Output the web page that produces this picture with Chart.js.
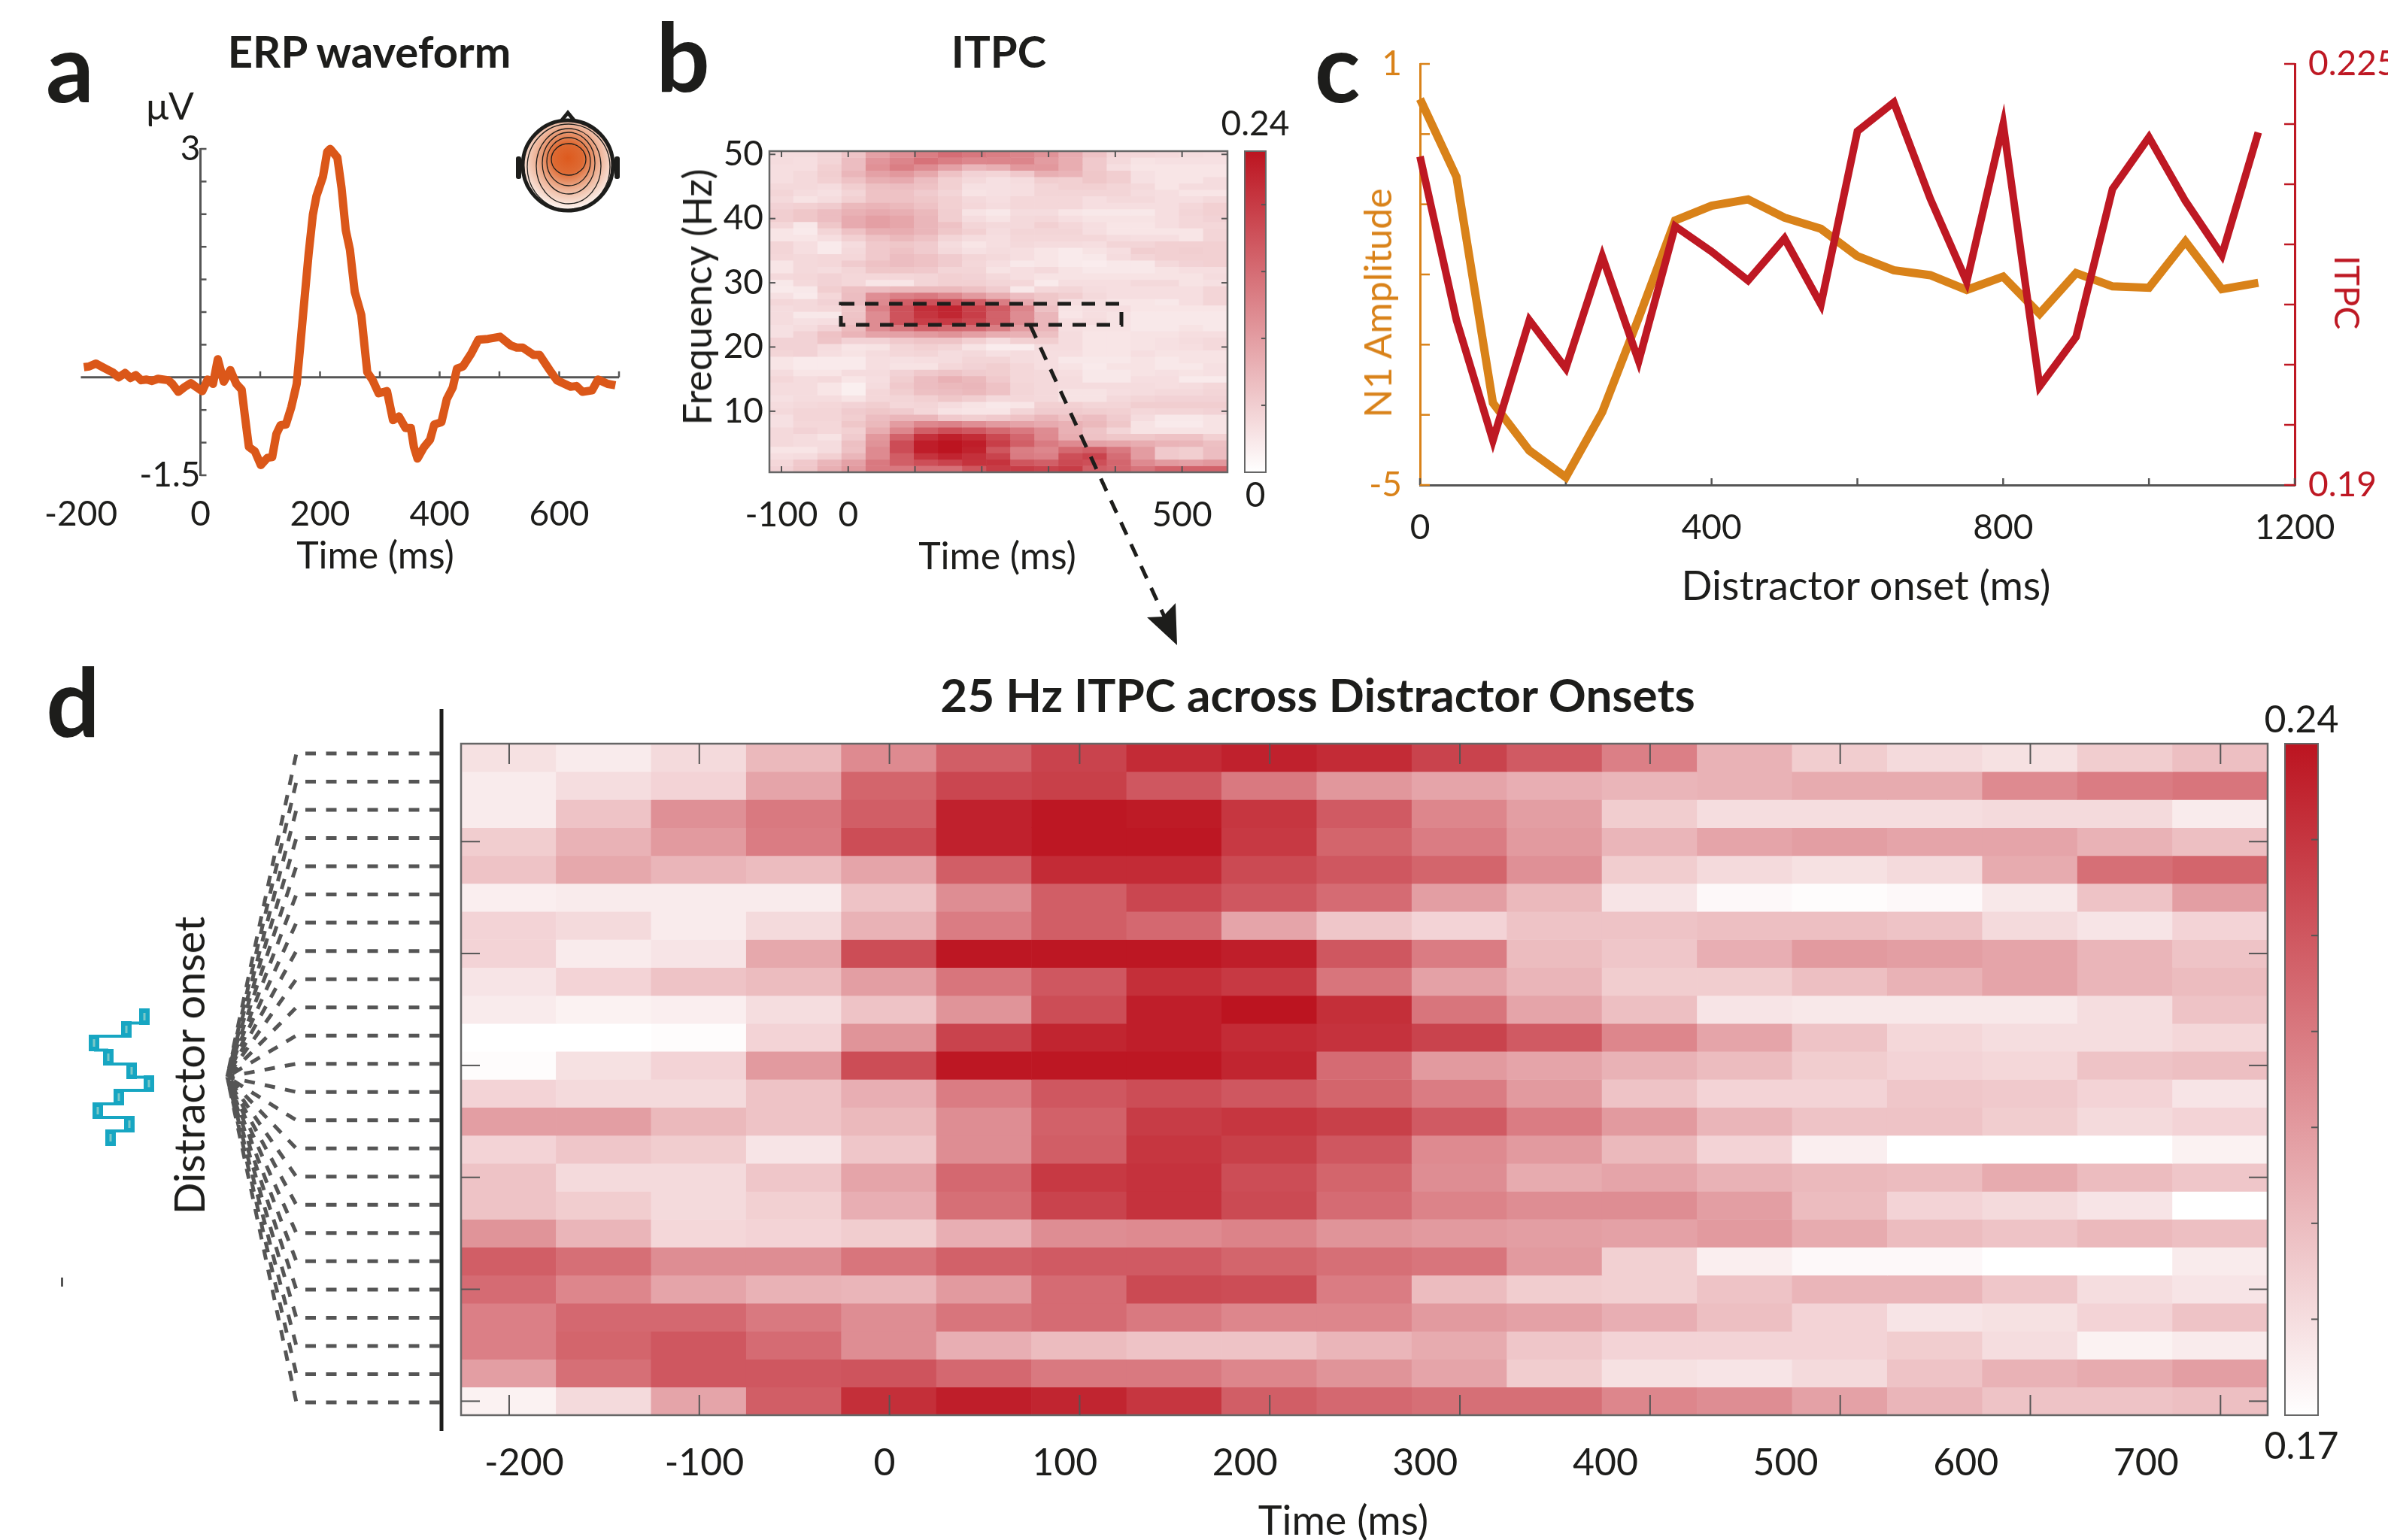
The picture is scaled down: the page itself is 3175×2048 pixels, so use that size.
<!DOCTYPE html>
<html>
<head>
<meta charset="utf-8">
<title>ERP and ITPC figure</title>
<script src="https://cdn.jsdelivr.net/npm/chart.js@4"></script>
<style>
  html, body { margin: 0; background: #fff; }
  #page { position: relative; width: 3175px; height: 2048px; overflow: hidden; font-family: Lato, sans-serif; color: #1d1d1b; }
  #page canvas, #page svg { position: absolute; left: 0; top: 0; }
  .txt { position: absolute; white-space: nowrap; line-height: 1; }
</style>
</head>
<body>
<div id="page"></div>
<script>
// panel a, ERP at the central electrodes
const erpTime = [-195,-186,-175,-161,-147,-137,-126,-117,-108,-99,-90,-81,-71,-54,-47,-37,-26,-16,-6,3,12,21,29,39,50,60,69,74,81,91,101,112,120,127,134,143,152,161,167,174,181,188,194,205,212,217,229,236,243,250,258,269,279,288,298,312,322,332,343,352,357,363,374,384,391,403,412,422,429,439,453,465,481,501,519,529,539,557,567,584,596,619,629,639,655,665,681,694];
const erpValues = [-0.01,0,0.04,-0.02,-0.08,-0.15,-0.09,-0.16,-0.12,-0.19,-0.18,-0.2,-0.17,-0.19,-0.24,-0.35,-0.28,-0.23,-0.29,-0.34,-0.18,-0.24,0.1,-0.21,-0.05,-0.24,-0.32,-0.66,-1.11,-1.17,-1.36,-1.26,-1.25,-0.93,-0.81,-0.8,-0.56,-0.24,0.29,0.93,1.56,2.09,2.35,2.62,2.96,3,2.88,2.46,1.88,1.61,1.03,0.71,-0.08,-0.19,-0.37,-0.34,-0.74,-0.69,-0.85,-0.85,-1.11,-1.27,-1.11,-1.01,-0.8,-0.77,-0.45,-0.29,-0.03,0,0.18,0.37,0.38,0.41,0.29,0.26,0.26,0.16,0.16,-0.05,-0.19,-0.28,-0.27,-0.35,-0.33,-0.18,-0.24,-0.26];
const erpYTicks = [-1.5,-1.05,-0.6,-0.15,0.3,0.75,1.2,1.65,2.1,2.55,3];
const erpYLabels = [-1.5,3];
const erpXTicks = [-200,-100,0,100,200,300,400,500,600,700];
const erpXLabels = [-200,0,200,400,600];
const erpBaseline = -0.15;

// panel b, ITPC in % of the colourbar top (0.24), top row is 50 Hz
const itpcTop = 0.24;
const freqBins = [50,49,48,47,46,45,44,43,42,41,40,39,38,37,36,35,34,33,32,31,30,29,28,27,26,25,24,23,22,21,20,19,18,17,16,15,14,13,12,11,10,9,8,7,6,5,4,3,2,1];
const tfTimeBins = [-100,-64,-28,8,44,80,117,153,189,225,261,297,333,369,406,442,478,514,550];
const tfTimeTicks = [-100,0,100,200,300,400,500];
const tfTimeLabels = [-100,0,500];
const freqTicks = [10,20,30,40,50];
const itpcTimeFreq = [
  [15,15,18,25,40,48,55,62,58,55,52,46,36,26,18,17,16,15,14],
  [15,14,18,28,45,52,60,55,51,52,52,42,35,23,16,12,13,13,13],
  [14,14,20,28,47,55,49,40,31,34,44,44,35,23,14,11,11,11,11],
  [14,16,21,31,40,44,37,26,19,18,23,34,32,24,21,13,11,11,11],
  [14,16,20,26,34,36,28,20,16,13,15,21,20,24,21,13,11,11,15],
  [16,16,15,21,27,28,26,20,13,13,14,18,20,20,18,16,11,15,15],
  [18,15,13,18,26,26,22,18,12,13,14,18,18,18,18,15,14,11,11],
  [16,12,15,20,26,26,24,20,16,14,17,17,17,14,16,16,14,14,16],
  [19,20,22,30,32,30,26,20,17,15,17,17,17,14,14,14,14,17,20],
  [21,24,28,33,36,34,30,21,12,10,15,15,11,10,10,10,14,18,20],
  [21,24,28,36,41,38,31,21,15,12,16,17,14,12,12,12,14,17,19],
  [17,10,24,36,41,38,31,26,18,16,16,20,17,14,11,11,14,17,17],
  [11,9,18,26,34,35,31,24,20,15,18,18,18,14,11,11,11,11,18],
  [11,11,14,20,26,30,26,18,15,14,17,17,17,17,15,14,14,11,18],
  [18,14,9,15,23,24,22,15,11,14,16,15,15,14,18,18,20,20,20],
  [18,14,9,16,23,26,22,16,13,15,14,11,9,12,14,21,20,21,20],
  [17,16,17,17,23,28,26,22,18,16,14,11,9,10,15,18,20,20,20],
  [11,16,17,22,26,28,26,22,17,14,10,11,9,8,10,10,16,19,20],
  [11,16,15,18,24,24,23,18,18,12,14,16,12,10,10,10,12,14,14],
  [16,17,19,17,17,17,18,20,19,16,14,12,12,12,12,12,12,12,15],
  [10,16,19,17,11,11,18,20,20,18,17,9,14,14,14,16,16,12,13],
  [9,10,21,27,28,30,30,30,27,22,10,17,18,15,14,14,14,14,18],
  [13,9,17,28,48,54,57,51,43,35,28,24,21,16,14,14,14,14,18],
  [17,16,19,28,50,68,74,74,69,55,36,24,14,14,11,11,10,14,18],
  [15,16,17,24,54,74,89,93,81,70,52,27,12,14,14,11,11,11,11],
  [15,10,10,25,49,73,86,92,82,67,49,31,11,14,12,10,10,10,10],
  [15,13,14,26,49,73,82,84,78,67,49,31,14,15,12,10,10,10,10],
  [13,15,19,29,49,58,67,64,63,55,42,31,14,12,12,10,10,12,10],
  [13,19,26,32,39,40,43,46,41,35,33,27,15,11,11,12,12,14,14],
  [19,19,25,19,19,23,25,25,20,15,20,21,15,11,11,12,13,15,16],
  [19,19,15,11,12,18,20,18,12,8,8,15,15,11,11,12,13,14,16],
  [18,19,14,12,15,17,18,15,16,13,15,14,14,11,11,14,12,12,12],
  [11,9,9,9,14,13,14,15,18,18,15,14,10,10,10,12,10,12,12],
  [11,9,9,9,14,12,12,17,19,21,17,14,12,9,12,12,10,10,13],
  [15,11,11,15,15,19,23,25,22,21,17,16,14,10,10,12,13,12,13],
  [17,15,16,11,14,21,28,33,30,23,17,16,15,10,10,14,14,9,9],
  [15,15,11,7,15,23,28,30,31,26,18,16,15,15,15,15,14,15,17],
  [15,15,11,7,17,21,27,28,30,26,18,16,12,12,14,15,16,16,18],
  [13,15,15,12,17,18,20,24,21,16,17,16,12,12,16,18,19,19,19],
  [15,16,17,19,21,17,18,15,12,10,11,20,20,18,18,21,21,21,21],
  [16,18,18,22,24,22,17,12,11,11,18,22,22,21,20,17,18,18,19],
  [13,18,18,21,28,31,31,23,21,23,26,31,26,28,22,15,10,10,12],
  [13,17,17,24,30,42,51,53,48,43,39,36,33,30,24,12,9,9,12],
  [16,19,17,20,35,51,68,75,71,64,57,49,33,25,18,12,12,12,12],
  [16,15,12,22,44,67,88,95,90,78,65,50,35,26,24,24,26,26,20],
  [16,15,15,27,46,76,96,100,96,82,68,56,50,40,38,35,32,31,27],
  [11,11,15,26,50,76,96,100,94,72,55,51,64,68,57,42,23,21,28],
  [14,15,20,31,50,69,87,93,88,80,56,54,75,80,62,42,23,21,28],
  [17,23,31,40,57,68,75,80,87,87,72,68,77,75,65,50,43,41,44],
  [19,24,34,43,57,57,61,61,72,83,83,80,83,68,65,59,67,67,67]
];
const tfBarTicks = [0.05,0.1,0.15,0.2];

// panel c, N1 amplitude and 25 Hz ITPC per onset
const onsetTimes = [0,50,100,150,200,250,300,350,400,450,500,550,600,650,700,750,800,850,900,950,1000,1050,1100,1150];
const n1Amplitude = [0.5,-0.61,-3.83,-4.51,-4.89,-3.96,-2.62,-1.23,-1.02,-0.93,-1.19,-1.35,-1.74,-1.94,-2.01,-2.22,-2.03,-2.56,-1.98,-2.17,-2.19,-1.53,-2.21,-2.12];
const onsetItpc = [0.2173,0.2037,0.1937,0.2037,0.1997,0.209,0.2003,0.2115,0.2094,0.207,0.2105,0.205,0.2194,0.2218,0.2138,0.2069,0.22,0.1982,0.2023,0.2146,0.2189,0.2136,0.2091,0.2193];
const onsetXTicks = [0,200,400,600,800,1000,1200];
const onsetXLabels = [0,400,800,1200];
const n1Ticks = [-5,-4,-3,-2,-1,0,1];
const n1Labels = [-5,1];
const onsetItpcTicks = [0.19,0.195,0.2,0.205,0.21,0.215,0.22,0.225];
const onsetItpcLabels = [0.19,0.225];

// panel d, ITPC x 1000, one row per distractor onset, first row on top
const onsetRows = [1,2,3,4,5,6,7,8,9,10,11,12,13,14,15,16,17,18,19,20,21,22,23,24];
const onsetRowTicks = [4,8,12,16,20,24];
const dTimeBins = [-200,-150,-100,-50,0,50,100,150,200,250,300,350,400,450,500,550,600,650,700];
const dTickMarks = [-200,-100,0,100,200,300,400,500,600,700];
const itpcOnsetTime = [
  [179,176,181,191,205,218,226,233,236,233,226,219,208,193,185,181,179,185,189],
  [176,180,183,197,216,225,227,220,210,201,197,194,192,193,195,195,205,209,211],
  [176,188,203,210,218,236,239,238,230,219,206,199,185,180,180,180,181,181,176],
  [185,193,200,209,223,236,239,239,229,216,209,200,192,197,199,197,197,193,189],
  [188,196,192,190,197,218,233,233,224,220,216,203,185,181,179,181,195,213,216],
  [175,176,176,176,188,204,218,225,220,214,199,191,178,172,171,172,177,188,199],
  [183,181,176,181,193,209,218,215,197,187,183,188,188,189,189,188,181,178,183],
  [183,176,178,196,223,239,239,239,237,220,209,190,187,194,200,199,197,192,188],
  [178,183,188,190,199,211,220,232,229,211,198,192,185,185,189,193,197,192,190],
  [176,174,175,180,188,202,223,237,240,232,211,197,189,178,177,177,177,180,188],
  [170,170,171,183,202,226,235,237,233,231,226,219,206,197,188,182,180,180,182],
  [171,179,183,200,223,239,239,239,235,214,200,197,193,190,185,183,182,188,189],
  [183,181,181,188,194,209,220,223,220,216,209,200,188,183,183,187,186,183,178],
  [199,199,191,188,191,204,217,228,230,227,219,209,200,192,188,188,185,181,183],
  [183,187,185,178,187,204,218,230,227,220,205,200,191,183,175,170,170,170,174],
  [188,181,181,187,197,215,229,231,223,216,204,195,197,193,191,190,195,190,187],
  [188,185,181,184,194,213,226,231,224,214,207,204,204,199,190,183,181,178,170],
  [202,192,182,183,185,194,204,205,207,202,200,199,198,200,195,190,188,191,189],
  [218,213,204,204,211,217,219,219,216,213,211,200,184,175,172,172,170,170,176],
  [214,206,197,193,192,200,214,224,223,209,190,185,184,188,192,192,187,180,178],
  [208,215,215,210,204,211,214,210,206,206,200,198,194,189,183,178,179,183,188],
  [208,216,220,214,204,194,190,188,188,192,195,187,183,183,183,185,180,174,176],
  [199,213,220,220,221,215,210,210,206,202,197,185,179,178,181,188,193,195,199],
  [174,181,197,218,232,237,235,230,218,215,213,213,206,204,198,192,188,188,189]
];
const dBarTicks = [0.18,0.19,0.2,0.21,0.22,0.23];
const dBarMin = 0.17;
const dBarMax = 0.24;

const PAGE_W = 3175, PAGE_H = 2048;
const INK = '#1d1d1b', GREY = '#555555';
const ORANGE = '#db5719', AMBER = '#d98219', RED = '#be1823';
const FONT = 'Lato, sans-serif';
const page = document.getElementById('page');

function newCanvas() {
  const c = document.createElement('canvas');
  c.width = PAGE_W; c.height = PAGE_H;
  page.appendChild(c);
  return c;
}

function addText(text, x, y, size, opts) {
  opts = opts || {};
  const d = document.createElement('div');
  d.className = 'txt';
  d.textContent = text;
  d.style.left = x + 'px';
  d.style.top = y + 'px';
  d.style.fontSize = size + 'px';
  d.style.fontWeight = opts.weight || 400;
  d.style.color = opts.color || INK;
  d.style.transform = 'translate(-50%,-50%) rotate(' + (opts.rotate || 0) + 'deg)';
  page.appendChild(d);
}

// white to dark red, same map for both heatmaps
function heatColor(v, lo, hi) {
  const f = Math.min(1, Math.max(0, (v - lo) / (hi - lo)));
  const r = Math.round(255 + (188 - 255) * f);
  const g = Math.round(255 + (20 - 255) * f);
  const b = Math.round(255 + (32 - 255) * f);
  return 'rgb(' + r + ',' + g + ',' + b + ')';
}

function stroke(ctx, x0, y0, x1, y1, color, width) {
  ctx.save();
  ctx.strokeStyle = color;
  ctx.lineWidth = width;
  ctx.beginPath();
  ctx.moveTo(x0, y0);
  ctx.lineTo(x1, y1);
  ctx.stroke();
  ctx.restore();
}

// short tick marks along a scale, drawn from anchor by len pixels
function tickMarks(chart, id, anchor, len, color, width, keep) {
  const s = chart.scales[id];
  s.ticks.forEach(t => {
    if (keep && !keep(t.value)) return;
    const p = s.getPixelForValue(t.value);
    if (s.isHorizontal()) stroke(chart.ctx, p, anchor, p, anchor + len, color, width);
    else stroke(chart.ctx, anchor, p, anchor + len, p, color, width);
  });
}

function boxOutline(chart, color, width) {
  const a = chart.chartArea;
  chart.ctx.save();
  chart.ctx.strokeStyle = color;
  chart.ctx.lineWidth = width;
  chart.ctx.strokeRect(a.left, a.top, a.right - a.left, a.bottom - a.top);
  chart.ctx.restore();
}

// padding that leaves the plot area at exactly these page coordinates,
// the boxes are the fixed room given to the axes (tick labels get clipped to it)
function paddingFor(left, top, right, bottom, boxLeft, boxBottom, boxRight) {
  return {
    left: left - (boxLeft || 0),
    top: top,
    right: PAGE_W - right - (boxRight || 0),
    bottom: PAGE_H - bottom - (boxBottom || 0)
  };
}

function axis(values, labeled, extra) {
  extra = extra || {};
  const box = extra.box || 0;
  const tickOpts = Object.assign({
    autoSkip: false, maxRotation: 0, minRotation: 0, includeBounds: false,
    padding: 20, color: INK, font: { family: FONT, size: 46 },
    callback: v => labeled.some(l => Math.abs(l - v) < 1e-6) ? String(v) : ''
  }, extra.ticks || {});
  const out = Object.assign({
    afterBuildTicks: s => { s.ticks = values.map(v => ({ value: v })); },
    afterFit: s => { if (s.isHorizontal()) s.height = box; else s.width = box; },
    offset: false,
    grid: { display: false, drawTicks: false, offset: false },
    border: { display: false }
  }, extra);
  out.ticks = tickOpts;
  delete out.box;
  return out;
}

const commonOptions = () => ({
  responsive: false, animation: false, events: [],
  plugins: { legend: { display: false }, tooltip: { enabled: false } }
});

function heatmap(cfg) {
  const rowsets = cfg.matrix.map((row, r) => ({
    data: row.map(() => [cfg.rows[r] - 0.5, cfg.rows[r] + 0.5]),
    backgroundColor: row.map(cfg.color),
    borderWidth: 0, barPercentage: 1, categoryPercentage: 1, grouped: false,
    xAxisID: 'xCells', yAxisID: 'y'
  }));
  const opts = commonOptions();
  opts.layout = { padding: paddingFor(cfg.left, cfg.top, cfg.right, cfg.bottom, cfg.boxLeft, cfg.boxBottom) };
  opts.scales = Object.assign({ xCells: { type: 'category', display: false, offset: true } }, cfg.scales);
  new Chart(newCanvas(), {
    type: 'bar',
    data: { labels: cfg.categories, datasets: rowsets },
    options: opts,
    plugins: [{ id: 'heatFrame', afterDatasetsDraw: cfg.marks }]
  });
}

function colorbar(cfg) {
  const opts = commonOptions();
  opts.layout = { padding: paddingFor(cfg.left, cfg.top, cfg.right, cfg.bottom) };
  opts.scales = {
    x: { type: 'category', display: false },
    y: axis(cfg.ticks, [], { type: 'linear', min: cfg.min, max: cfg.max })
  };
  new Chart(newCanvas(), {
    type: 'bar',
    data: {
      labels: ['ITPC'],
      datasets: [{
        data: [[cfg.min, cfg.max]],
        barPercentage: 1, categoryPercentage: 1, borderWidth: 0,
        backgroundColor: c => {
          const a = c.chart.chartArea;
          if (!a) return '#fff';
          const g = c.chart.ctx.createLinearGradient(0, a.bottom, 0, a.top);
          g.addColorStop(0, heatColor(0, 0, 1));
          g.addColorStop(1, heatColor(1, 0, 1));
          return g;
        }
      }]
    },
    options: opts,
    plugins: [{
      id: 'barFrame',
      afterDatasetsDraw(chart) {
        boxOutline(chart, '#666', 2);
        tickMarks(chart, 'y', chart.chartArea.right, -cfg.tick, '#555', 2);
      }
    }]
  });
}

// --- panel a
(function () {
  const opts = commonOptions();
  opts.layout = { padding: paddingFor(107.5, 198, 823, 632, 0, 100) };
  opts.scales = {
    x: axis(erpXTicks, erpXLabels, { type: 'linear', min: -200, max: 700, box: 100, ticks: { padding: 25 } }),
    y: axis(erpYTicks, erpYLabels, {
      type: 'linear', min: -1.5, max: 3, position: { x: 0 },
      border: { display: true, color: GREY, width: 3 }, ticks: { padding: 16 }
    })
  };
  new Chart(newCanvas(), {
    type: 'line',
    data: {
      datasets: [{
        data: erpTime.map((t, i) => ({ x: t, y: erpValues[i] })),
        borderColor: ORANGE, borderWidth: 11, pointRadius: 0, tension: 0,
        borderJoinStyle: 'round', clip: false
      }]
    },
    options: opts,
    plugins: [{
      id: 'erpAxes',
      beforeDatasetsDraw(chart) {
        const base = chart.scales.y.getPixelForValue(erpBaseline);
        const a = chart.chartArea;
        stroke(chart.ctx, a.left, base, a.right, base, GREY, 3);
        tickMarks(chart, 'x', base, -8, GREY, 2.5, v => v > 0);
        tickMarks(chart, 'y', chart.scales.x.getPixelForValue(0), 8, GREY, 2.5);
      }
    }]
  });
})();

// --- panel b
heatmap({
  matrix: itpcTimeFreq, rows: freqBins, categories: tfTimeBins,
  color: v => heatColor(v / 100 * itpcTop, 0, itpcTop),
  left: 1023, top: 201, right: 1632, bottom: 628, boxLeft: 100, boxBottom: 90,
  scales: {
    xTime: axis(tfTimeTicks, tfTimeLabels, { type: 'linear', position: 'bottom', min: -118, max: 568, box: 90, ticks: { padding: 30 } }),
    y: axis(freqTicks, freqTicks, { type: 'linear', position: 'left', min: 0.5, max: 50.5, box: 100, ticks: { padding: 8 } })
  },
  marks(chart) {
    const a = chart.chartArea;
    boxOutline(chart, '#666', 2.5);
    tickMarks(chart, 'xTime', a.top, 8, GREY, 2);
    tickMarks(chart, 'xTime', a.bottom, -8, GREY, 2);
    tickMarks(chart, 'y', a.left, 8, GREY, 2);
    tickMarks(chart, 'y', a.right, -8, GREY, 2);
  }
});
colorbar({ left: 1655, top: 201, right: 1683, bottom: 628, min: 0, max: 0.24, ticks: tfBarTicks, tick: 6 });

// --- panel c
(function () {
  const opts = commonOptions();
  opts.layout = { padding: paddingFor(1888, 85, 3051, 645, 90, 90, 124) };
  opts.scales = {
    x: axis(onsetXTicks, onsetXLabels, {
      type: 'linear', min: 0, max: 1200, box: 90,
      border: { display: true, color: GREY, width: 3 }, ticks: { padding: 30 }
    }),
    yN1: axis(n1Ticks, n1Labels, {
      type: 'linear', position: 'left', min: -5, max: 1, box: 90,
      border: { display: true, color: AMBER, width: 3 }, ticks: { color: AMBER, padding: 24 }
    }),
    yItpc: axis(onsetItpcTicks, onsetItpcLabels, {
      type: 'linear', position: 'right', min: 0.19, max: 0.225, box: 124,
      border: { display: true, color: RED, width: 3 }, ticks: { color: RED, padding: 18 }
    })
  };
  new Chart(newCanvas(), {
    type: 'line',
    data: {
      labels: onsetTimes,
      datasets: [
        { data: onsetTimes.map((t, i) => ({ x: t, y: onsetItpc[i] })), yAxisID: 'yItpc', borderColor: RED, borderWidth: 10, pointRadius: 0, tension: 0, clip: false },
        { data: onsetTimes.map((t, i) => ({ x: t, y: n1Amplitude[i] })), yAxisID: 'yN1', borderColor: AMBER, borderWidth: 11, pointRadius: 0, tension: 0, clip: false }
      ]
    },
    options: opts,
    plugins: [{
      id: 'onsetTicks',
      beforeDatasetsDraw(chart) {
        const a = chart.chartArea;
        tickMarks(chart, 'x', a.bottom, -9, GREY, 2.5);
        tickMarks(chart, 'yN1', a.left, 13, AMBER, 2.5);
        tickMarks(chart, 'yItpc', a.right, -14, RED, 2.5);
      }
    }]
  });
})();

// --- panel d, tick marks and tick labels sit on two different spacings in the figure
heatmap({
  matrix: itpcOnsetTime, rows: onsetRows, categories: dTimeBins,
  color: v => heatColor(v / 1000, dBarMin, dBarMax),
  left: 613, top: 989, right: 3015, bottom: 1882, boxBottom: 100,
  scales: {
    xMarks: axis(dTickMarks, [], { type: 'linear', position: 'bottom', min: -225.3, max: 724.8, ticks: { display: false } }),
    xLabels: axis(dTickMarks, dTickMarks, {
      type: 'linear', position: 'bottom', min: -235, max: 767.5, box: 100,
      ticks: { padding: 34, font: { family: FONT, size: 50 } }
    }),
    y: axis(onsetRowTicks, [], { type: 'linear', position: 'left', reverse: true, min: 0.5, max: 24.5, ticks: { display: false } })
  },
  marks(chart) {
    const a = chart.chartArea;
    boxOutline(chart, '#666', 2.5);
    tickMarks(chart, 'xMarks', a.top, 27, GREY, 2);
    tickMarks(chart, 'xMarks', a.bottom, -27, GREY, 2);
    tickMarks(chart, 'y', a.left, 25, GREY, 2);
    tickMarks(chart, 'y', a.right, -25, GREY, 2);
  }
});
colorbar({ left: 3038, top: 989, right: 3082, bottom: 1882, min: dBarMin, max: dBarMax, ticks: dBarTicks, tick: 9 });

// --- text that does not belong to an axis tick
addText('a', 93, 88, 126, { weight: 700 });
addText('b', 908, 74, 126, { weight: 700 });
addText('c', 1778, 88, 126, { weight: 700 });
addText('d', 97, 932, 126, { weight: 700 });
addText('ERP waveform', 491, 68, 58, { weight: 700 });
addText('ITPC', 1328, 68, 58, { weight: 700 });
addText('25 Hz ITPC across Distractor Onsets', 1752, 923, 62, { weight: 700 });
addText('μV', 226, 140, 50);
addText('Time (ms)', 499, 737, 50);
addText('Time (ms)', 1326, 738, 50);
addText('Time (ms)', 1786, 2021, 54);
addText('Frequency (Hz)', 926, 395, 52, { rotate: -90 });
addText('Distractor onset (ms)', 2481, 778, 54);
addText('N1 Amplitude', 1831, 403, 50, { color: AMBER, rotate: -90 });
addText('ITPC', 3121, 389, 46, { color: RED, rotate: 90 });
addText('Distractor onset', 251, 1417, 56, { rotate: -90 });
addText('0.24', 1669, 163, 46);
addText('0', 1669, 657, 46);
addText('0.24', 3060, 955, 50);
addText('0.17', 3060, 1921, 50);

// --- drawn decoration: scalp map, selection box and arrow, onset fan, distractor trace
(function () {
  const NS = 'http://www.w3.org/2000/svg';
  const parts = [];
  // scalp map
  parts.push('<defs><clipPath id="head"><circle cx="755" cy="220" r="60"/></clipPath>' +
    '<radialGradient id="scalp" gradientUnits="userSpaceOnUse" cx="755" cy="210" r="72">' +
    '<stop offset="0" stop-color="#dd5a1e"/><stop offset="0.28" stop-color="#de6a33"/>' +
    '<stop offset="0.6" stop-color="#eeb59a"/><stop offset="1" stop-color="#ffffff"/></radialGradient></defs>');
  parts.push('<polygon points="755,150 746,161 764,161" fill="none" stroke="#1d1d1b" stroke-width="5"/>');
  parts.push('<rect x="686" y="208" width="7" height="30" rx="3" fill="#1d1d1b"/><rect x="817" y="208" width="7" height="30" rx="3" fill="#1d1d1b"/>');
  parts.push('<circle cx="755" cy="220" r="60" fill="url(#scalp)"/>');
  parts.push('<g clip-path="url(#head)" fill="none" stroke="#1d1d1b" stroke-width="1.3">');
  [[756, 212, 23, 21], [756, 215, 29, 32], [756, 217, 35, 41], [756, 221, 43, 50], [756, 222, 55, 57]].forEach(e => {
    parts.push('<ellipse cx="' + e[0] + '" cy="' + e[1] + '" rx="' + e[2] + '" ry="' + e[3] + '"/>');
  });
  parts.push('</g><circle cx="755" cy="220" r="60" fill="none" stroke="#1d1d1b" stroke-width="5"/>');
  // box around 25 Hz and the arrow down to panel d
  parts.push('<rect x="1118" y="404" width="373" height="28" fill="none" stroke="#1d1d1b" stroke-width="5" stroke-dasharray="18 14"/>');
  parts.push('<line x1="1370" y1="433" x2="1549" y2="822" stroke="#1d1d1b" stroke-width="5" stroke-dasharray="18 14"/>');
  parts.push('<polygon points="1565,858 1525,821 1546,820 1563,802" fill="#1d1d1b"/>');
  // black bar left of the heatmap, with a dashed fan to one apex
  parts.push('<line x1="587" y1="943" x2="587" y2="1903" stroke="#1d1d1b" stroke-width="5"/>');
  let d = '';
  for (let i = 0; i < 24; i++) d += 'M585 ' + (1002 + i * 37.52) + 'H394L302 1432';
  parts.push('<path d="' + d + '" fill="none" stroke="#555" stroke-width="5" stroke-dasharray="14 13.5"/>');
  // distractor trace
  const trace = [[192,1352],[168,1369],[125,1387],[144,1406],[175,1424],[198,1441],[158,1459],[130,1477],[172,1495],[147,1513]];
  trace.forEach((p, i) => {
    if (i) {
      const q = trace[i - 1];
      const y = (p[1] + q[1]) / 2;
      parts.push('<line x1="' + q[0] + '" y1="' + y + '" x2="' + p[0] + '" y2="' + y + '" stroke="#17a6c2" stroke-width="4"/>');
    }
  });
  trace.forEach(p => {
    parts.push('<rect x="' + (p[0] - 7) + '" y="' + (p[1] - 11) + '" width="14" height="22" fill="#17a6c2"/>');
    parts.push('<rect x="' + (p[0] - 1.5) + '" y="' + (p[1] - 5) + '" width="3" height="10" fill="#7cc8c8"/>');
  });
  parts.push('<rect x="81" y="1699" width="3" height="12" fill="#555"/>');
  const svg = document.createElementNS(NS, 'svg');
  svg.setAttribute('width', PAGE_W);
  svg.setAttribute('height', PAGE_H);
  svg.innerHTML = parts.join('');
  page.appendChild(svg);
})();
</script>
</body>
</html>
